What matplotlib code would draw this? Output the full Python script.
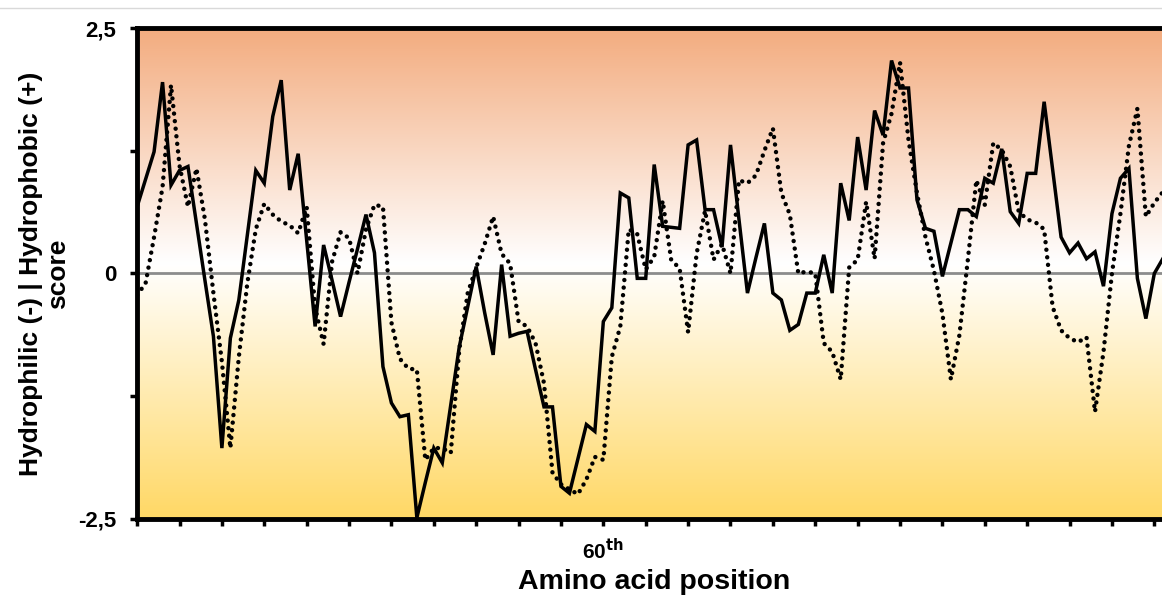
import matplotlib.pyplot as plt
import numpy as np
from matplotlib.colors import LinearSegmentedColormap
from matplotlib.lines import Line2D

plt.rcParams['font.family'] = ['Liberation Sans', 'DejaVu Sans']
plt.rcParams['font.weight'] = 'bold'

positions = np.arange(5, 128)  # amino acid positions shown

# solid line (profile 1)
solid = [0.68, 0.96, 1.24, 1.95, 0.90, 1.05, 1.09, 0.51, -0.07, -0.64,
         -1.78, -0.66, -0.27, 0.39, 1.05, 0.92, 1.60, 1.97, 0.85, 1.22,
         0.34, -0.54, 0.29, -0.07, -0.44, -0.09, 0.25, 0.60, 0.21, -0.95,
         -1.32, -1.46, -1.44, -2.49, -2.13, -1.78, -1.93, -1.34, -0.75, -0.34,
         0.07, -0.40, -0.83, 0.09, -0.64, -0.61, -0.59, -0.98, -1.36, -1.36,
         -2.17, -2.24, -1.89, -1.54, -1.61, -0.49, -0.35, 0.82, 0.77, -0.05,
         -0.05, 1.11, 0.48, 0.47, 0.46, 1.31, 1.36, 0.65, 0.65, 0.27,
         1.31, 0.55, -0.20, 0.16, 0.51, -0.20, -0.27, -0.58, -0.52, -0.20,
         -0.20, 0.19, -0.20, 0.92, 0.54, 1.39, 0.85, 1.66, 1.41, 2.17,
         1.89, 1.89, 0.75, 0.46, 0.43, -0.03, 0.31, 0.65, 0.65, 0.58,
         0.97, 0.92, 1.27, 0.63, 0.51, 1.02, 1.02, 1.75, 1.06, 0.37,
         0.21, 0.31, 0.15, 0.22, -0.13, 0.61, 0.97, 1.07, -0.05, -0.46,
         0.00, 0.15, -0.69]

# dotted line (profile 2)
dotted = [-0.22, -0.10, 0.37, 0.88, 1.92, 1.10, 0.68, 1.07, 0.55, -0.20,
          -0.90, -1.78, -0.85, -0.10, 0.45, 0.71, 0.60, 0.53, 0.49, 0.41,
          0.68, -0.35, -0.72, 0.12, 0.42, 0.36, 0.00, 0.45, 0.70, 0.68,
          -0.50, -0.87, -0.97, -0.98, -1.90, -1.78, -1.78, -1.83, -0.78, -0.20,
          0.06, 0.30, 0.58, 0.20, 0.10, -0.49, -0.54, -0.71, -1.12, -2.03,
          -2.15, -2.20, -2.25, -2.10, -1.87, -1.90, -0.85, -0.54, 0.45, 0.40,
          0.04, 0.17, 0.74, 0.14, 0.05, -0.60, 0.20, 0.64, 0.14, 0.30,
          0.00, 0.95, 0.92, 1.00, 1.25, 1.48, 0.82, 0.60, 0.00, 0.02,
          0.00, -0.71, -0.80, -1.08, 0.06, 0.14, 0.73, 0.15, 1.33, 1.63,
          2.15, 1.36, 0.82, 0.37, 0.03, -0.41, -1.08, -0.63, 0.14, 0.95,
          0.70, 1.33, 1.26, 1.09, 0.63, 0.55, 0.52, 0.45, -0.34, -0.58,
          -0.66, -0.70, -0.65, -1.41, -0.80, 0.00, 0.61, 1.30, 1.68, 0.58,
          0.72, 0.83, 1.15]

xticks = np.arange(5, 130, 5)
ymin, ymax = -2.5, 2.5

fig = plt.figure(figsize=(11.62, 5.99), dpi=100)
ax = fig.add_axes([0.118, 0.134, 0.89, 0.819])

# background gradient: orange (top) -> white (~0) -> yellow (bottom)
cmap = LinearSegmentedColormap.from_list(
    'bg', [(0.0, '#FFD865'), (0.52, '#FFFFFF'), (1.0, '#F3AC7F')])
grad = np.linspace(0, 1, 256).reshape(-1, 1)
ax.imshow(grad, cmap=cmap, aspect='auto', origin='lower',
          extent=[positions[0], positions[-1], ymin, ymax], zorder=0)

ax.axhline(0, color='#8C8C8C', lw=2, zorder=1)
ax.plot(positions, solid, color='black', lw=2.5, zorder=3,
        solid_joinstyle='miter')
ax.plot(positions, dotted, color='black', lw=3.2, zorder=2,
        linestyle=(0, (0.01, 1.7)), dash_capstyle='round')

ax.set_xlim(positions[0], positions[-1])
ax.set_ylim(ymin, ymax)

ax.set_xticks(xticks)
ax.set_xticklabels(['60$^{\\mathbf{th}}$' if t == 60 else '' for t in xticks],
                   fontsize=15, fontweight='bold')
ax.set_yticks([-2.5, -1.25, 0, 1.25, 2.5])
ax.set_yticklabels(['-2,5', '', '0', '', '2,5'], fontsize=16, fontweight='bold')
ax.tick_params(axis='both', direction='out', length=5, width=2.5)
ax.tick_params(axis='y', pad=10)
ax.tick_params(axis='x', pad=9)

for side in ['left', 'bottom', 'top']:
    ax.spines[side].set_linewidth(3.5)
ax.spines['right'].set_visible(False)

ax.set_xlabel('Amino acid position', fontsize=20.5, fontweight='bold', labelpad=4)
ax.set_ylabel('Hydrophilic (-) | Hydrophobic (+)\nscore', fontsize=19,
              fontweight='bold', labelpad=6, linespacing=1.15)

fig.add_artist(Line2D([0, 1], [0.987, 0.987], color='#D9D9D9', lw=1))

fig.savefig('out.png', dpi=100)
